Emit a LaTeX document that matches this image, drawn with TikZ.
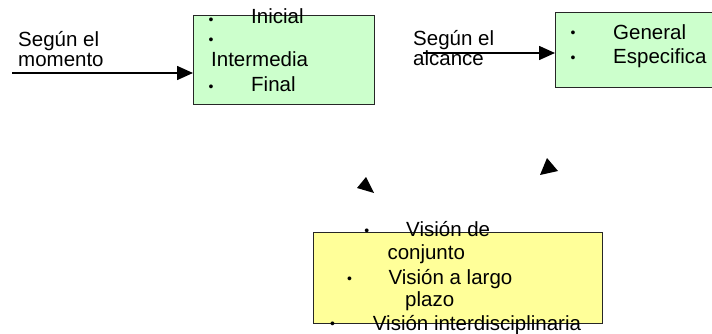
\documentclass[tikz,border=0pt]{standalone}
\usepackage{fontspec}
\setmainfont{Liberation Sans}
\usetikzlibrary{arrows.meta}
\definecolor{boxgreen}{HTML}{CCFFCC}
\definecolor{boxyellow}{HTML}{FFFF99}
\tikzset{
  txt/.style={font=\fontsize{20.5}{24}\selectfont, anchor=base west, inner sep=0pt},
  bul/.style={font=\fontsize{14}{14}\selectfont, anchor=base west, inner sep=0pt},
  boxshape/.style={draw=black!85, line width=1pt},
  shadowfill/.style={fill=black},
  conn/.style={line width=1.6pt, -{Triangle[length=16pt,width=14pt]}},
  headfill/.style={fill=black}
}
\begin{document}
\begin{tikzpicture}[x=1pt,y=-1pt]
\clip (0,0) rectangle (712,334);
\fill[white] (0,0) rectangle (712,334);

% left box
\fill[shadowfill] (194.2,16.2) rectangle (375.2,105.2);
\node[boxshape, fill=boxgreen, minimum width=181pt, minimum height=89pt, inner sep=0pt, anchor=north west] (boxA) at (193,15) {};
% right box
\fill[shadowfill] (556.2,13.2) rectangle (720,88.2);
\node[boxshape, fill=boxgreen, minimum width=160pt, minimum height=75pt, inner sep=0pt, anchor=north west] (boxB) at (555,12) {};
% bottom box
\fill[shadowfill] (314.2,233.2) rectangle (603.2,324.2);
\node[boxshape, fill=boxyellow, minimum width=289pt, minimum height=91pt, inner sep=0pt, anchor=north west] (boxC) at (313,232) {};

% left texts
\node[txt] (lblA1) at (18,47) {Según el};
\node[txt] (lblA2) at (18,67) {momento};
\coordinate (startA) at (12,73);
\draw[conn] (startA) -- (boxA.west |- startA);

% right texts
\node[txt] (lblB1) at (413,46) {Según el};
\node[txt] (lblB2) at (413,65.5) {alcance};
\coordinate (startB) at (423,53);
\draw[conn] (startB) -- (boxB.west |- startB);

% left box content
\node[bul] (bA1) at (208.5,24.3) {•};
\node[txt] (tA1) at (251,24) {Inicial};
\node[bul] (bA2) at (208.5,45) {•};
\node[txt] (tA2) at (211,66.5) {Intermedia};
\node[bul] (bA3) at (208.5,91.7) {•};
\node[txt] (tA3) at (251,91.7) {Final};

% right box content
\node[bul] (bB1) at (570.5,38) {•};
\node[txt] (tB1) at (613,40) {General};
\node[bul] (bB2) at (570.5,63) {•};
\node[txt] (tB2) at (613,64) {Especifica};

% bottom box content
\node[bul] (bC1) at (364.2,235) {•};
\node[txt] (tC1) at (406,236) {Visión de};
\node[txt] (tC2) at (387.3,259) {conjunto};
\node[bul] (bC2) at (346.8,283.3) {•};
\node[txt] (tC3) at (388.3,284) {Visión a largo};
\node[txt] (tC4) at (405,306) {plazo};
\node[bul] (bC3) at (329.8,328.3) {•};
\node[txt] (tC5) at (372.7,330) {Visión interdisciplinaria};

% lone arrowheads
\coordinate (tipL) at (374,193);
\coordinate (tipR) at (540,175);
\fill[headfill] (tipL) -- (366,177) -- (357,188) -- cycle;
\fill[headfill] (tipR) -- (547,158) -- (558,171) -- cycle;
\end{tikzpicture}
\end{document}
